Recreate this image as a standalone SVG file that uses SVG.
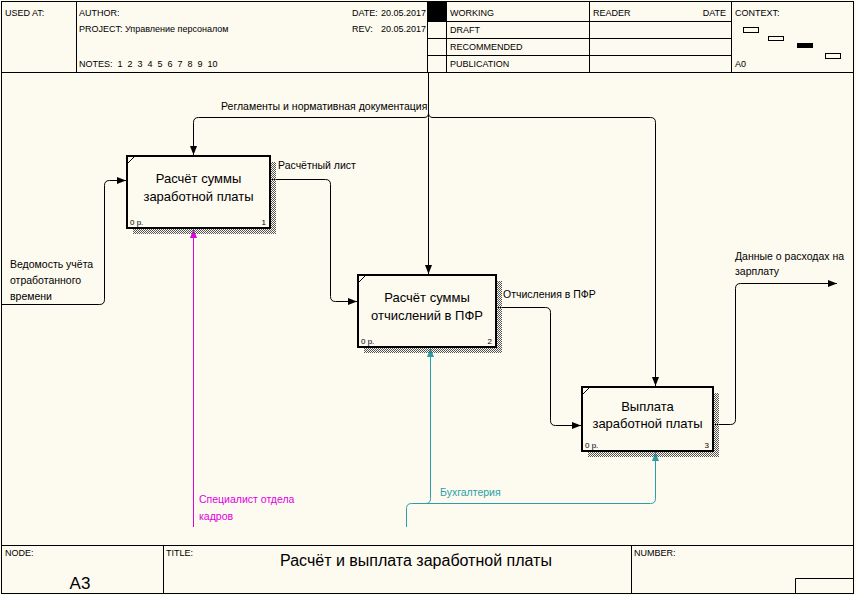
<svg xmlns="http://www.w3.org/2000/svg" width="856" height="595" viewBox="0 0 856 595">
<defs>
<style>
.frame{fill:none;stroke:#000;stroke-width:1}
.hdr{font-family:"Liberation Sans",Arial,sans-serif;font-size:9px;fill:#000}
.box{fill:#fdfaf0;stroke:#000;stroke-width:2}
.bt{font-family:"Liberation Sans",Arial,sans-serif;font-size:13px;fill:#000;text-anchor:middle}
.sm{font-family:"Liberation Sans",Arial,sans-serif;font-size:8px;fill:#000}
.lbl{font-family:"Liberation Sans",Arial,sans-serif;font-size:10.5px;fill:#000}
.ln{fill:none;stroke:#000;stroke-width:1}
.mg{fill:none;stroke:#e000e0;stroke-width:1}
.tl{fill:none;stroke:#2a9fa8;stroke-width:1}
</style>
<pattern id="hatch" width="2" height="2" patternUnits="userSpaceOnUse">
<rect x="0" y="0" width="1" height="1" fill="#555"/>
<rect x="1" y="1" width="1" height="1" fill="#555"/>
</pattern>
<marker id="ab" markerWidth="9" markerHeight="7" refX="9" refY="3.5" orient="auto" markerUnits="userSpaceOnUse">
<path d="M0,0 L9,3.5 L0,7 Z" fill="#000"/>
</marker>
<marker id="am" markerWidth="9" markerHeight="7" refX="9" refY="3.5" orient="auto" markerUnits="userSpaceOnUse">
<path d="M0,0 L9,3.5 L0,7 Z" fill="#e000e0"/>
</marker>
<marker id="at" markerWidth="9" markerHeight="7" refX="9" refY="3.5" orient="auto" markerUnits="userSpaceOnUse">
<path d="M0,0 L9,3.5 L0,7 Z" fill="#2a9fa8"/>
</marker>
</defs>
<rect x="0" y="0" width="856" height="595" fill="#fdfaf0"/>

<g id="header">
<rect class="frame" x="1.5" y="1.5" width="852" height="592"/>
<line class="frame" x1="1.5" y1="72.5" x2="853.5" y2="72.5"/>
<line class="frame" x1="76.5" y1="1.5" x2="76.5" y2="72.5"/>
<line class="frame" x1="427.5" y1="1.5" x2="427.5" y2="72.5"/>
<line class="frame" x1="446.5" y1="1.5" x2="446.5" y2="72.5"/>
<line class="frame" x1="589.5" y1="1.5" x2="589.5" y2="72.5"/>
<line class="frame" x1="731.5" y1="1.5" x2="731.5" y2="72.5"/>
<line class="frame" x1="427.5" y1="21.5" x2="731.5" y2="21.5"/>
<line class="frame" x1="427.5" y1="38.5" x2="731.5" y2="38.5"/>
<line class="frame" x1="427.5" y1="55.5" x2="731.5" y2="55.5"/>
<rect x="427" y="2" width="19" height="19" fill="#000"/>
<text class="hdr" x="5" y="16">USED AT:</text>
<text class="hdr" x="79" y="16">AUTHOR:</text>
<text class="hdr" x="79" y="32">PROJECT:</text>
<text class="hdr" x="125" y="32">Управление персоналом</text>
<text class="hdr" x="79" y="67" xml:space="preserve">NOTES:  1  2  3  4  5  6  7  8  9  10</text>
<text class="hdr" x="352" y="16">DATE:</text>
<text class="hdr" x="381" y="16">20.05.2017</text>
<text class="hdr" x="352" y="32">REV:</text>
<text class="hdr" x="381" y="32">20.05.2017</text>
<text class="hdr" x="450" y="16">WORKING</text>
<text class="hdr" x="450" y="33">DRAFT</text>
<text class="hdr" x="450" y="50">RECOMMENDED</text>
<text class="hdr" x="450" y="67">PUBLICATION</text>
<text class="hdr" x="593" y="16">READER</text>
<text class="hdr" x="726" y="16" text-anchor="end">DATE</text>
<text class="hdr" x="735" y="16">CONTEXT:</text>
<text class="hdr" x="735" y="67">A0</text>
<rect class="frame" x="743.5" y="27.5" width="15" height="5"/>
<rect class="frame" x="768.5" y="36.5" width="15" height="4"/>
<rect x="797" y="43" width="16" height="5" fill="#000"/>
<rect class="frame" x="825.5" y="53.5" width="15" height="5"/>
</g>

<g id="footer">
<line class="frame" x1="1.5" y1="545.5" x2="853.5" y2="545.5"/>
<line class="frame" x1="163.5" y1="545.5" x2="163.5" y2="593.5"/>
<line class="frame" x1="631.5" y1="545.5" x2="631.5" y2="593.5"/>
<polyline class="frame" points="795.5,593.5 795.5,578.5 853.5,578.5"/>
<text class="hdr" x="5" y="556" font-size="8">NODE:</text>
<text class="hdr" x="166" y="556" font-size="8">TITLE:</text>
<text class="hdr" x="634" y="556" font-size="8">NUMBER:</text>
<text x="80" y="589" font-family="'Liberation Sans',Arial,sans-serif" font-size="17" text-anchor="middle">А3</text>
<text x="416" y="566" font-family="'Liberation Sans',Arial,sans-serif" font-size="16" text-anchor="middle">Расчёт и выплата заработной платы</text>
</g>

<g id="connectors">
<path class="ln" d="M428.5,73 V117.5"/>
<path class="ln" d="M428.5,117.5 V274" marker-end="url(#ab)"/>
<path class="ln" d="M424,117.5 H198.5 Q193.5,117.5 193.5,122.5 V155" marker-end="url(#ab)"/>
<path class="ln" d="M433,117.5 H650.5 Q655.5,117.5 655.5,122.5 V386" marker-end="url(#ab)"/>
<path class="ln" d="M424,117.5 Q428.5,117.5 428.5,113 Q428.5,117.5 433,117.5"/>
<text class="lbl" x="221" y="110">Регламенты и нормативная документация</text>
<path class="ln" d="M2,304.5 H99.5 Q104.5,304.5 104.5,299.5 V185.5 Q104.5,180.5 109.5,180.5 H126" marker-end="url(#ab)"/>
<text class="lbl" x="10" y="268">Ведомость учёта</text>
<text class="lbl" x="10" y="284">отработанного</text>
<text class="lbl" x="10" y="300">времени</text>
<path class="ln" d="M270,179.5 H325.5 Q330.5,179.5 330.5,184.5 V296.5 Q330.5,301.5 335.5,301.5 H357" marker-end="url(#ab)"/>
<text class="lbl" x="278" y="169">Расчётный лист</text>
<path class="ln" d="M496,307.5 H545.5 Q550.5,307.5 550.5,312.5 V420.5 Q550.5,425.5 555.5,425.5 H581" marker-end="url(#ab)"/>
<text class="lbl" x="503" y="298">Отчисления в ПФР</text>
<path class="ln" d="M713,424.5 H730.5 Q735.5,424.5 735.5,419.5 V288.5 Q735.5,283.5 740.5,283.5 H837" marker-end="url(#ab)"/>
<text class="lbl" x="735" y="260">Данные о расходах на</text>
<text class="lbl" x="735" y="275">зарплату</text>
<path class="mg" d="M193.5,527 V229" marker-end="url(#am)"/>
<text class="lbl" x="199" y="503" style="fill:#e000e0">Специалист отдела</text>
<text class="lbl" x="199" y="520" style="fill:#e000e0">кадров</text>
<path class="tl" d="M406.5,527 V508.5 Q406.5,503.5 411.5,503.5 H650.5 Q655.5,503.5 655.5,498.5 V452" marker-end="url(#at)"/>
<path class="tl" d="M426,503.5 Q430.5,503.5 430.5,498.5 V348" marker-end="url(#at)"/>
<text class="lbl" x="440" y="496" style="fill:#2a9fa8">Бухгалтерия</text>
</g>

<g id="box1">
<rect x="133" y="162" width="143" height="72" fill="url(#hatch)"/>
<rect class="box" x="127" y="156" width="143" height="72"/>
<line x1="127" y1="164" x2="135" y2="156" stroke="#000" stroke-width="1"/>
<text class="bt" x="198.5" y="183">Расчёт суммы</text>
<text class="bt" x="198.5" y="201">заработной платы</text>
<text class="sm" x="130" y="225">0 р.</text>
<text class="sm" x="266" y="225" text-anchor="end">1</text>
</g>

<g id="box2">
<rect x="364" y="281" width="138" height="72" fill="url(#hatch)"/>
<rect class="box" x="358" y="275" width="138" height="72"/>
<line x1="358" y1="283" x2="366" y2="275" stroke="#000" stroke-width="1"/>
<text class="bt" x="427" y="302">Расчёт суммы</text>
<text class="bt" x="427" y="320">отчислений в ПФР</text>
<text class="sm" x="361" y="344">0 р.</text>
<text class="sm" x="492" y="344" text-anchor="end">2</text>
</g>

<g id="box3">
<rect x="588" y="393" width="131" height="64" fill="url(#hatch)"/>
<rect class="box" x="582" y="387" width="131" height="64"/>
<line x1="582" y1="395" x2="590" y2="387" stroke="#000" stroke-width="1"/>
<text class="bt" x="647.5" y="411">Выплата</text>
<text class="bt" x="647.5" y="428">заработной платы</text>
<text class="sm" x="585" y="448">0 р.</text>
<text class="sm" x="709" y="448" text-anchor="end">3</text>
</g>
</svg>
